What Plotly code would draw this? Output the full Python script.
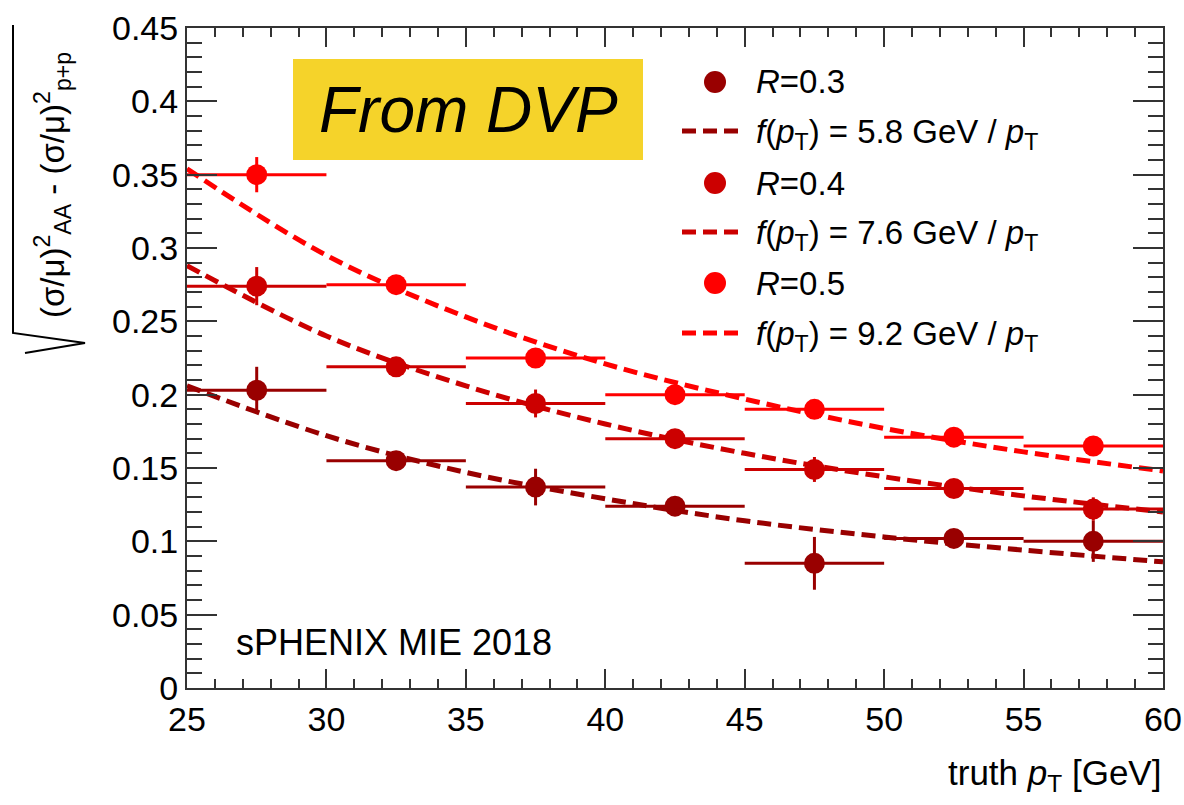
import plotly.graph_objects as go

# ---------------- data ----------------
pt_centers = [27.5, 32.5, 37.5, 42.5, 47.5, 52.5, 57.5]
pt_halfwidth = [2.5, 2.5, 2.5, 2.5, 2.5, 2.5, 2.5]

r03_vals = [0.203, 0.155, 0.137, 0.124, 0.085, 0.102, 0.100]
r03_errs = [0.016, 0.005, 0.0125, 0.004, 0.018, 0.004, 0.014]
r04_vals = [0.274, 0.219, 0.194, 0.170, 0.149, 0.136, 0.122]
r04_errs = [0.013, 0.004, 0.0095, 0.004, 0.0085, 0.004, 0.008]
r05_vals = [0.350, 0.275, 0.225, 0.200, 0.190, 0.171, 0.165]
r05_errs = [0.012, 0.003, 0.005, 0.004, 0.004, 0.003, 0.004]

# fit curves at these pT values
curve_pt = [25, 30, 35, 40, 45, 50, 55, 60]
curve_r03 = [0.206, 0.172, 0.147, 0.129, 0.114, 0.103, 0.094, 0.086]
curve_r04 = [0.288, 0.240, 0.206, 0.180, 0.160, 0.144, 0.131, 0.120]
curve_r05 = [0.354, 0.295, 0.253, 0.221, 0.197, 0.177, 0.161, 0.148]

series_names = ["R=0.3", "R=0.4", "R=0.5"]
legend_labels = ["<i>R</i>=0.3", "<i>R</i>=0.4", "<i>R</i>=0.5"]
fit_labels = [
    "<i>f</i>(<i>p</i><sub>T</sub>) = 5.8 GeV / <i>p</i><sub>T</sub>",
    "<i>f</i>(<i>p</i><sub>T</sub>) = 7.6 GeV / <i>p</i><sub>T</sub>",
    "<i>f</i>(<i>p</i><sub>T</sub>) = 9.2 GeV / <i>p</i><sub>T</sub>",
]
colors = ["#990000", "#CC0000", "#FF0000"]

x_ticks = [25, 30, 35, 40, 45, 50, 55, 60]
y_ticks = [0, 0.05, 0.1, 0.15, 0.2, 0.25, 0.3, 0.35, 0.4, 0.45]

# ---------------- layout geometry ----------------
W, H = 1184, 805
L, R, T, B = 187, 21, 28, 117
PW, PH = W - L - R, H - T - B


def px(x):
    return (x - L) / PW


def py(y):
    return (H - B - y) / PH


FONT = "Liberation Sans, Arial, Helvetica, sans-serif"
DASH = "14px,7px"

fig = go.Figure()

vals = [r03_vals, r04_vals, r05_vals]
errs = [r03_errs, r04_errs, r05_errs]
curves = [curve_r03, curve_r04, curve_r05]

for name, v, e, c in zip(series_names, vals, errs, colors):
    fig.add_trace(go.Scatter(
        x=pt_centers, y=v, mode="markers", name=name,
        marker=dict(color=c, size=21, line=dict(width=0)),
        error_x=dict(type="data", array=pt_halfwidth, color=c, thickness=3, width=0),
        error_y=dict(type="data", array=e, color=c, thickness=3, width=0),
        cliponaxis=True,
    ))

for name, cv, c in zip(series_names, curves, colors):
    fig.add_trace(go.Scatter(
        x=curve_pt, y=cv, mode="lines", name="fit " + name,
        line=dict(color=c, width=5, dash=DASH, shape="spline"),
    ))

axis_common = dict(
    showgrid=False, zeroline=False, showline=True, linecolor="#333333", linewidth=2,
    mirror="ticks", ticks="inside", tickcolor="#333333", tickwidth=2,
    automargin=False,
    tickfont=dict(family=FONT, size=34, color="black"),
)

fig.update_xaxes(range=[25, 60], tickvals=x_ticks, ticklen=19,
                 minor=dict(ticks="inside", dtick=1, ticklen=9, tickcolor="#333333", tickwidth=2),
                 **axis_common)
fig.update_yaxes(range=[0, 0.45], tickvals=y_ticks, ticklen=30,
                 ticktext=[f"{t:g}" for t in y_ticks],
                 minor=dict(ticks="inside", dtick=0.01, ticklen=15, tickcolor="#333333", tickwidth=2),
                 **axis_common)

shapes = []
annotations = []

# yellow "From DVP" box
shapes.append(dict(type="rect", xref="paper", yref="paper",
                   x0=px(293), x1=px(643), y0=py(160), y1=py(59),
                   fillcolor="#F5D32A", line=dict(width=0), layer="above"))
annotations.append(dict(xref="paper", yref="paper", x=px(468), y=py(110),
                        text="<i>From DVP</i>", showarrow=False,
                        font=dict(family=FONT, size=64, color="black"),
                        xanchor="center", yanchor="middle"))

# legend (manual)
marker_rows = [82, 183, 283]
dash_rows = [131, 232, 333]
for i in range(3):
    shapes.append(dict(type="circle", xref="paper", yref="paper",
                       xsizemode="pixel", ysizemode="pixel",
                       xanchor=px(715), yanchor=py(marker_rows[i]),
                       x0=-11, x1=11, y0=-11, y1=11,
                       fillcolor=colors[i], line=dict(width=0), layer="above"))
    shapes.append(dict(type="line", xref="paper", yref="paper",
                       x0=px(682), x1=px(738), y0=py(dash_rows[i]), y1=py(dash_rows[i]),
                       line=dict(color=colors[i], width=5, dash=DASH), layer="above"))
    annotations.append(dict(xref="paper", yref="paper", x=px(754), y=py(marker_rows[i]),
                            text=legend_labels[i], showarrow=False,
                            font=dict(family=FONT, size=33, color="black"),
                            xanchor="left", yanchor="middle"))
    annotations.append(dict(xref="paper", yref="paper", x=px(754), y=py(dash_rows[i] - 20),
                            text=fit_labels[i], showarrow=False,
                            font=dict(family=FONT, size=33, color="black"),
                            xanchor="left", yanchor="top"))

# sPHENIX label
annotations.append(dict(xref="paper", yref="paper", x=px(234), y=py(642),
                        text="sPHENIX MIE 2018", showarrow=False,
                        font=dict(family=FONT, size=36, color="black"),
                        xanchor="left", yanchor="middle"))

# x-axis title
annotations.append(dict(xref="paper", yref="paper", x=px(1163), y=py(775),
                        text="truth <i>p</i><sub>T</sub> [GeV]", showarrow=False,
                        font=dict(family=FONT, size=35, color="black"),
                        xanchor="right", yanchor="middle"))

# y-axis title (rotated) with radical sign
annotations.append(dict(xref="paper", yref="paper", x=px(52), y=py(185),
                        text="(σ/μ)<sup>2</sup><sub>AA</sub> - (σ/μ)<sup>2</sup><sub>p+p</sub>",
                        showarrow=False, textangle=-90,
                        font=dict(family=FONT, size=33, color="black"),
                        xanchor="center", yanchor="middle"))
rad_path = "M {},{} L {},{} L {},{} L {},{}".format(
    px(13), py(25), px(13), py(333), px(85), py(343), px(25), py(353))
shapes.append(dict(type="path", xref="paper", yref="paper", path=rad_path,
                   line=dict(color="black", width=2)))

fig.update_layout(
    width=W, height=H,
    margin=dict(l=L, r=R, t=T, b=B, pad=0, autoexpand=False),
    paper_bgcolor="white", plot_bgcolor="white",
    showlegend=False,
    font=dict(family=FONT, color="black"),
    shapes=shapes, annotations=annotations,
)

fig.write_html("out.html")
